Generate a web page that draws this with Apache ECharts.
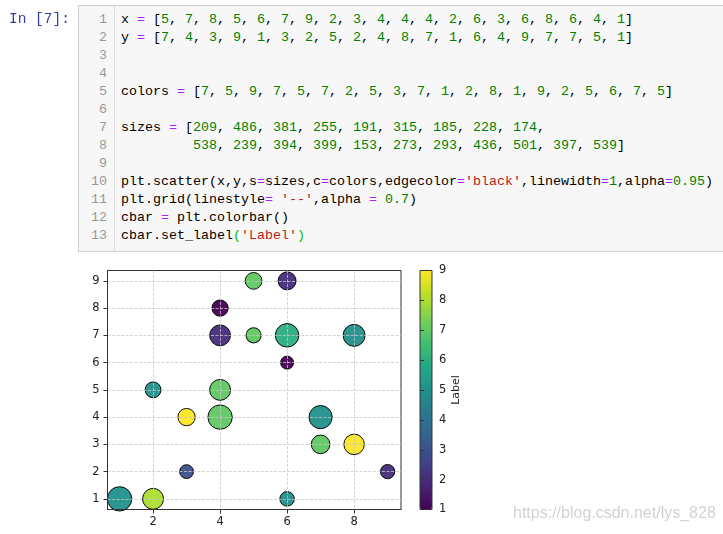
<!DOCTYPE html>
<html>
<head>
<meta charset="utf-8">
<script src="https://cdn.jsdelivr.net/npm/echarts@6/dist/echarts.min.js"></script>
<style>
  html, body { margin:0; padding:0; background:#fff; width:723px; height:534px; overflow:hidden; }
  #chart { position:absolute; left:0; top:0; width:723px; height:534px; }
  #prompt { position:absolute; left:9px; top:11px; height:18px; line-height:18px; font:14.5px "Liberation Mono", monospace; color:#303F9F; }
  #cell { position:absolute; left:78px; top:5px; width:645px; height:247px; background:#f7f7f7;
          border:1px solid #cfcfcf; border-right:none; box-sizing:border-box; }
  #gutter { position:absolute; left:78px; top:6px; width:37px; height:245px; border-right:1px solid #ddd; box-sizing:border-box; }
  .ln { position:absolute; left:78px; width:29px; text-align:right; height:18px; line-height:18px;
        font:13.33px "Liberation Mono", monospace; color:#999; }
  .code { position:absolute; left:121px; height:18px; line-height:18px; white-space:pre;
          font:13.33px "Liberation Mono", monospace; color:#000; }
  .o { color:#AA22FF; } .n { color:#008000; } .s { color:#BA2121; } .b { color:#00bb00; }
</style>
</head>
<body>
<div id="chart"></div>
<div id="prompt">In [7]:</div>
<div id="cell"></div>
<div id="gutter"></div>
<div id="lines"></div>
<script>
// ---- data ----
const xValues = [5, 7, 8, 5, 6, 7, 9, 2, 3, 4, 4, 4, 2, 6, 3, 6, 8, 6, 4, 1];
const yValues = [7, 4, 3, 9, 1, 3, 2, 5, 2, 4, 8, 7, 1, 6, 4, 9, 7, 7, 5, 1];
const colorValues = [7, 5, 9, 7, 5, 7, 2, 5, 3, 7, 1, 2, 8, 1, 9, 2, 5, 6, 7, 5];
const sizeValues = [209, 486, 381, 255, 191, 315, 185, 228, 174,
                    538, 239, 394, 399, 153, 273, 293, 436, 501, 397, 539];
const xTicks = [2, 4, 6, 8];
const yTicks = [1, 2, 3, 4, 5, 6, 7, 8, 9];
const cbarTicks = [1, 2, 3, 4, 5, 6, 7, 8, 9];
const cbarLabel = 'Label';
const watermark = 'https://blog.csdn.net/lys_828';

// ---- code cell text (HTML) ----
function num(v){ return '<span class="n">' + v + '</span>'; }
function listHTML(arr){ return arr.map(num).join(', '); }
const E = '<span class="o">=</span>';
const codeLines = [
  'x ' + E + ' [' + listHTML(xValues) + ']',
  'y ' + E + ' [' + listHTML(yValues) + ']',
  '',
  '',
  'colors ' + E + ' [' + listHTML(colorValues) + ']',
  '',
  'sizes ' + E + ' [' + listHTML(sizeValues.slice(0, 9)) + ',',
  '         ' + listHTML(sizeValues.slice(9)) + ']',
  '',
  'plt.scatter(x,y,s' + E + 'sizes,c' + E + 'colors,edgecolor' + E + '<span class="s">\'black\'</span>,linewidth' + E + num(1) + ',alpha' + E + num('0.95') + ')',
  'plt.grid(linestyle' + E + ' <span class="s">\'--\'</span>,alpha ' + E + ' ' + num('0.7') + ')',
  'cbar ' + E + ' plt.colorbar()',
  'cbar.set_label<span class="b">(</span><span class="s">\'Label\'</span><span class="b">)</span>'
];
const linesDiv = document.getElementById('lines');
codeLines.forEach((t, i) => {
  const top = 11.5 + 18 * i;
  const ln = document.createElement('div');
  ln.className = 'ln'; ln.style.top = top + 'px'; ln.textContent = String(i + 1);
  linesDiv.appendChild(ln);
  const c = document.createElement('div');
  c.className = 'code'; c.style.top = top + 'px'; c.innerHTML = t;
  linesDiv.appendChild(c);
});

// ---- chart ----
const viridis = ['#440154', '#482475', '#414487', '#355f8d', '#2a788e', '#21918c',
                 '#22a884', '#44bf70', '#7ad151', '#bddf26', '#fde725'];
const seriesData = xValues.map((x, i) => [x, yValues[i], colorValues[i], sizeValues[i]]);
const tickFont = { color: '#222', fontSize: 11.5, fontFamily: 'DejaVu Sans' };
const gridLine = { show: true, lineStyle: { color: '#c8c8c8', width: 0.8, type: [3, 1.5] } };

const chart = echarts.init(document.getElementById('chart'), null, { renderer: 'canvas' });
chart.setOption({
  animation: false,
  backgroundColor: 'transparent',
  grid: [
    { left: 107.5, top: 270.5, width: 293.5, height: 239, show: true, borderColor: '#333', borderWidth: 1, backgroundColor: 'transparent' },
    { left: 420, top: 270.5, width: 12, height: 239, show: true, borderColor: '#333', borderWidth: 1, backgroundColor: 'transparent', z: 10 }
  ],
  xAxis: [
    { type: 'value', gridIndex: 0, min: 0.64, max: 9.4, minInterval: 2, maxInterval: 2, z: 3,
      axisLine: { show: true, onZero: false, lineStyle: { color: '#333', width: 1 } },
      axisTick: { show: true, inside: false, length: 4, customValues: xTicks, lineStyle: { color: '#333' } },
      axisLabel: Object.assign({ margin: 7, customValues: xTicks }, tickFont),
      splitLine: gridLine },
    { type: 'value', gridIndex: 1, min: 0, max: 1, show: false }
  ],
  yAxis: [
    { type: 'value', gridIndex: 0, min: 0.61, max: 9.38, minInterval: 1, maxInterval: 1, z: 3,
      axisLine: { show: true, onZero: false, lineStyle: { color: '#333', width: 1 } },
      axisTick: { show: true, inside: false, length: 4, customValues: yTicks, lineStyle: { color: '#333' } },
      axisLabel: Object.assign({ margin: 8, customValues: yTicks }, tickFont),
      splitLine: gridLine },
    { type: 'value', gridIndex: 1, min: 1, max: 9, minInterval: 1, maxInterval: 1, position: 'right', z: 11,
      name: cbarLabel, nameLocation: 'middle', nameRotate: 90, nameGap: 18,
      nameTextStyle: { color: '#222', fontSize: 11, fontFamily: 'DejaVu Sans' },
      axisLine: { show: false },
      axisTick: { show: true, inside: false, length: 4, customValues: cbarTicks, lineStyle: { color: '#333' } },
      axisLabel: Object.assign({ margin: 7, customValues: cbarTicks }, tickFont),
      splitLine: { show: false } }
  ],
  visualMap: [{
    type: 'continuous', min: 1, max: 9, dimension: 2, seriesIndex: 0,
    inRange: { color: viridis },
    calculable: false, show: true, orient: 'vertical',
    left: 420, top: 270.5, itemWidth: 12, itemHeight: 239, padding: 0, text: null,
    textStyle: { fontSize: 0 }, hoverLink: false
  }],
  graphic: [{
    type: 'text', left: 513, top: 506, z: 20,
    style: { text: watermark, fill: '#d2d2d2', font: '16px "Liberation Sans", Arial, sans-serif' }
  }],
  series: [{
    type: 'scatter', xAxisIndex: 0, yAxisIndex: 0,
    data: seriesData,
    symbolSize: d => Math.sqrt(d[3]) * 1.05,
    itemStyle: { borderColor: '#000', borderWidth: 1, opacity: 0.95 },
    z: 2
  }]
});
</script>
</body>
</html>
